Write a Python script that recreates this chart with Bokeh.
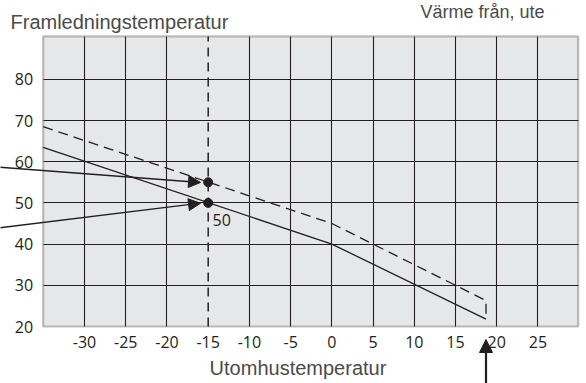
from bokeh.plotting import figure
from bokeh.models import Range1d, FixedTicker, Arrow, NormalHead, Label, BoxAnnotation, Grid
from bokeh.core.properties import value
from bokeh.embed import file_html
from bokeh.resources import INLINE

# ---- data ----
x_ticks = [-30, -25, -20, -15, -10, -5, 0, 5, 10, 15, 20, 25]
x_grid = [-30, -25, -20, -10, -5, 0, 5, 10, 15, 20, 25]
y_ticks = [20, 30, 40, 50, 60, 70, 80]
y_grid = [30, 40, 50, 60, 70, 80]

solid_x = [-35.02, 0, 18.7]
solid_y = [63.5, 40, 21.8]

dashed_x = [-35.02, 0, 18.7, 18.7]
dashed_y = [68.5, 45, 26.3, 21.8]

design_temp = -15
point_x = [-15, -15]
point_y = [55, 50]
point_label = "50"
stop_temp = 18.7

title_y = "Framledningstemperatur"
title_x = "Utomhustemperatur"
title_r = "Värme från, ute"

# chart area (data coordinates)
X_MIN, X_MAX = -35.02, 29.88
Y_MIN, Y_MAX = 20, 90.4

INK = "#231f20"
TXT = "#4a4a4a"

p = figure(width=586, height=383,
           x_range=Range1d(-40.195, 30.89), y_range=Range1d(6.17, 99.13),
           output_backend="svg", toolbar_location=None,
           min_border=0)
p.axis.visible = False
p.outline_line_color = None
p.background_fill_color = "white"
p.border_fill_color = "white"

# grey chart area
p.add_layout(BoxAnnotation(left=X_MIN, right=X_MAX, bottom=Y_MIN, top=Y_MAX,
                           fill_color="#e6e7e8", fill_alpha=1.0, line_color=None,
                           level="image"))

# grid
has_cross = "cross_bounds" in Grid.properties()
p.xgrid.ticker = FixedTicker(ticks=x_grid)
p.ygrid.ticker = FixedTicker(ticks=y_grid)
for g in (p.xgrid, p.ygrid):
    g.grid_line_color = INK
    g.grid_line_width = 1.1
    g.grid_line_alpha = 1.0
if has_cross:
    p.xgrid.cross_bounds = (Y_MIN, Y_MAX)
    p.ygrid.cross_bounds = (X_MIN, X_MAX)
else:
    p.xgrid.visible = False
    p.ygrid.visible = False
    p.segment(x0=x_grid, y0=[Y_MIN] * len(x_grid), x1=x_grid, y1=[Y_MAX] * len(x_grid),
              line_color=INK, line_width=1.1)
    p.segment(x0=[X_MIN] * len(y_grid), y0=y_grid, x1=[X_MAX] * len(y_grid), y1=y_grid,
              line_color=INK, line_width=1.1)

# frame outline
p.add_layout(BoxAnnotation(left=X_MIN, right=X_MAX, bottom=Y_MIN, top=Y_MAX,
                           fill_color=None, line_color="#333333", line_width=2.2,
                           level="overlay"))

# tick labels
p.text(x=x_ticks, y=[Y_MIN] * len(x_ticks), text=[str(v) for v in x_ticks],
       text_align="center", text_baseline="top", y_offset=9,
       text_font=value("Open Sans"), text_font_size="16px", text_color=INK)
p.text(x=[X_MIN] * len(y_ticks), y=y_ticks, text=[str(v) for v in y_ticks],
       text_align="right", text_baseline="middle", x_offset=-10,
       text_font=value("Open Sans"), text_font_size="16px", text_color=INK)

# vertical dashed line at design temperature
p.line([design_temp, design_temp], [Y_MIN, Y_MAX], line_color=INK,
       line_width=1.5, line_dash="9 6")

# curves
p.line(solid_x, solid_y, line_color=INK, line_width=1.3)
p.line(dashed_x, dashed_y, line_color=INK, line_width=1.3, line_dash="10 6")

# points
p.scatter(point_x, point_y, size=9, color=INK)

# arrows
p.add_layout(Arrow(end=NormalHead(size=12, fill_color=INK, line_color=INK),
                   x_start=-40.3, y_start=58.67, x_end=-15.93, y_end=54.96,
                   line_color=INK, line_width=1.3))
p.add_layout(Arrow(end=NormalHead(size=12, fill_color=INK, line_color=INK),
                   x_start=-40.3, y_start=43.96, x_end=-15.93, y_end=49.93,
                   line_color=INK, line_width=1.3))
p.add_layout(Arrow(end=NormalHead(size=13, fill_color=INK, line_color=INK),
                   x_start=stop_temp, y_start=5.0, x_end=stop_temp, y_end=16.85,
                   line_color=INK, line_width=2.2))

# texts
p.add_layout(Label(x=-14.48, y=45.9, text=point_label, text_font="Open Sans",
                   text_font_size="16px", text_color=INK, text_baseline="alphabetic"))
p.add_layout(Label(x=-38.98, y=93.8, text=title_y, text_font="Liberation Sans",
                   text_font_size="20px", text_color=TXT, text_baseline="alphabetic"))
p.add_layout(Label(x=-4.11, y=9.9, text=title_x, text_font="Liberation Sans",
                   text_font_size="20px", text_color=TXT, text_align="center",
                   text_baseline="alphabetic"))
p.add_layout(Label(x=18.27, y=96.4, text=title_r, text_font="Liberation Sans",
                   text_font_size="18px", text_color=TXT, text_align="center",
                   text_baseline="alphabetic"))

open("out.html", "w").write(file_html(p, INLINE))
